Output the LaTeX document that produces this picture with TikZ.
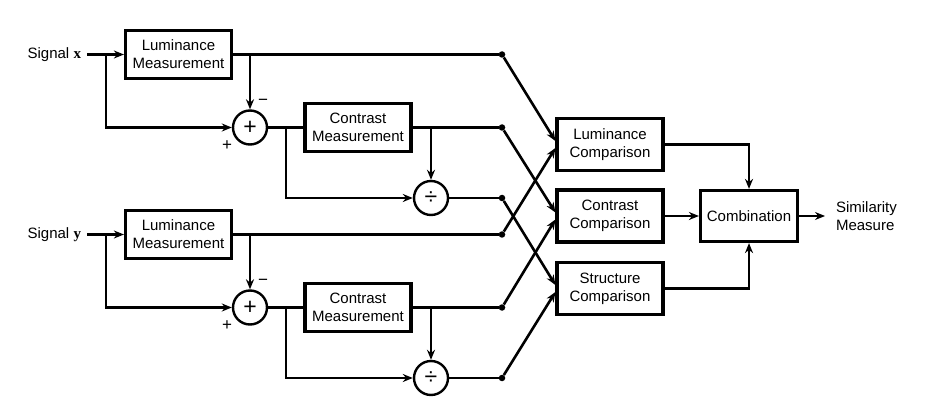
\documentclass[tikz,border=0pt]{standalone}
\usepackage{fontspec}
\setmainfont{Liberation Sans}
\newfontfamily\serifbold{Liberation Serif}
\usetikzlibrary{arrows.meta,calc}
\begin{document}
\begin{tikzpicture}[x=1pt,y=-1pt,
  font=\fontsize{15}{18}\selectfont,
  wire/.style={line width=2.6pt},
  arr/.style={wire,-{Stealth[length=10pt,width=8pt]}},
  blk/.style={draw,line width=3.2pt,minimum width=106pt,minimum height=48pt,align=center,inner sep=0pt},
  cmp/.style={blk,minimum height=52pt},
  op/.style={draw,circle,line width=2.4pt,minimum size=34pt,inner sep=0pt,font=\fontsize{23}{23}\selectfont},
  jdot/.style={circle,fill,inner sep=0pt,minimum size=6.5pt},
  sgn/.style={anchor=east,inner sep=0pt,outer xsep=6pt},
  pm/.style={inner sep=0pt,font=\fontsize{17}{17}\selectfont}
]
\useasboundingbox (0,0) rectangle (936,403);

% ---- signal x branch
\node[sgn] (sx) at (87,54.5) {Signal {\serifbold\bfseries x}};
\node[blk] (lumx) at (178.5,54.5) {Luminance\\Measurement};
\node[op] (plx) at (250,127.5) {+};
\node[blk] (conx) at (358,127.5) {Contrast\\Measurement};
\node[op] (dvx) at (431,198) {÷};
\node[jdot] (d1) at (502,54.5) {};
\node[jdot] (d2) at (502,127.5) {};
\node[jdot] (d3) at (502,198) {};
\node[pm] (mx) at (263,102) {−};
\node[pm] (px) at (227,146) {+};
\coordinate (bx) at (106,54.5);
\coordinate (tx) at (250,54.5);
\coordinate (ux) at (286,127.5);
\coordinate (vx) at (431,127.5);

\draw[arr] (sx.east) -- (lumx.west);
\draw[arr] (bx) |- (plx.west);
\draw[wire] (lumx.east) -- (d1);
\draw[arr] (tx) -- (plx.north);
\draw[wire] (plx.east) -- (conx.west);
\draw[arr] (ux) |- (dvx.west);
\draw[wire] (conx.east) -- (d2);
\draw[arr] (vx) -- (dvx.north);
\draw[wire] (dvx.east) -- (d3);

% ---- signal y branch
\node[sgn] (sy) at (87,234.5) {Signal {\serifbold\bfseries y}};
\node[blk] (lumy) at (178.5,234.5) {Luminance\\Measurement};
\node[op] (ply) at (250,307.5) {+};
\node[blk] (cony) at (358,307.5) {Contrast\\Measurement};
\node[op] (dvy) at (431,378) {÷};
\node[jdot] (d4) at (502,234.5) {};
\node[jdot] (d5) at (502,307.5) {};
\node[jdot] (d6) at (502,378) {};
\node[pm] (my) at (263,282) {−};
\node[pm] (py) at (227,326) {+};
\coordinate (by) at (106,234.5);
\coordinate (ty) at (250,234.5);
\coordinate (uy) at (286,307.5);
\coordinate (vy) at (431,307.5);

\draw[arr] (sy.east) -- (lumy.west);
\draw[arr] (by) |- (ply.west);
\draw[wire] (lumy.east) -- (d4);
\draw[arr] (ty) -- (ply.north);
\draw[wire] (ply.east) -- (cony.west);
\draw[arr] (uy) |- (dvy.west);
\draw[wire] (cony.east) -- (d5);
\draw[arr] (vy) -- (dvy.north);
\draw[wire] (dvy.east) -- (d6);

% ---- comparisons
\node[cmp] (lc) at (610,144.5) {Luminance\\Comparison};
\node[cmp] (cc) at (610,216) {Contrast\\Comparison};
\node[cmp] (sc) at (610,288.5) {Structure\\Comparison};
\node[blk,minimum width=97pt,minimum height=51pt] (comb) at (749,216) {Combination};
\node[anchor=west,align=left,inner sep=0pt,outer xsep=11pt] (out) at (825,216) {Similarity\\Measure};

\draw[arr] (d1) -- ($(lc.west)+(0,-3.5)$);
\draw[arr] (d4) -- ($(lc.west)+(0,3.5)$);
\draw[arr] (d2) -- ($(cc.west)+(0,-3.5)$);
\draw[arr] (d5) -- ($(cc.west)+(0,3.5)$);
\draw[arr] (d3) -- ($(sc.west)+(0,-3.5)$);
\draw[arr] (d6) -- ($(sc.west)+(0,3.5)$);

\draw[arr] (lc.east) -| (comb.north);
\draw[arr] (cc.east) -- (comb.west);
\draw[arr] (sc.east) -| (comb.south);
\draw[arr] (comb.east) -- (out.west);
\end{tikzpicture}
\end{document}
